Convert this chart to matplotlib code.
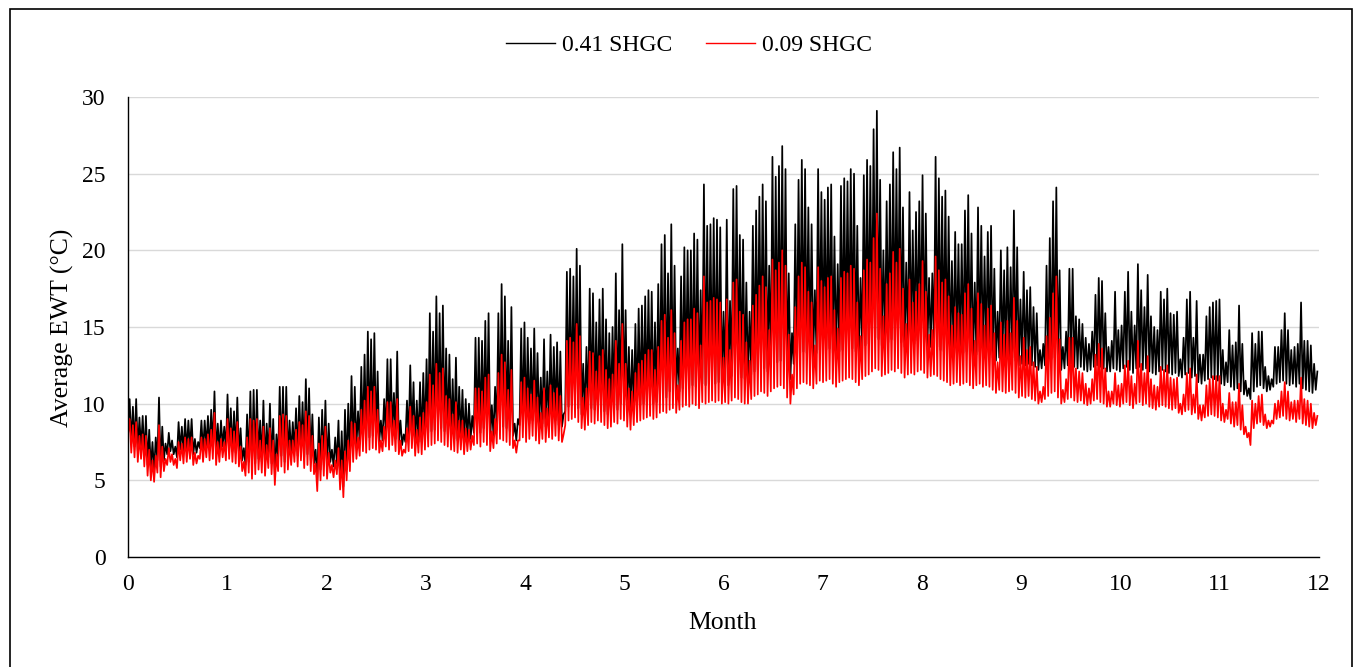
import matplotlib
matplotlib.use("Agg")
import matplotlib.pyplot as plt
import numpy as np
from matplotlib.patches import Rectangle

plt.rcParams["font.family"] = ["Liberation Serif", "DejaVu Serif"]

# Daily peak / trough EWT (°C), day 0..364
black_peak = [
    10.3, 9.8, 10.3, 9.1, 9.2, 9.2, 8.3, 7.5, 7.8, 10.4,
    8.5, 7.4, 8.1, 7.6, 7.2, 8.8, 8.5, 9.0, 8.9, 9.0,
    7.7, 7.5, 8.9, 8.9, 9.2, 9.6, 10.8, 8.7, 8.9, 8.5,
    10.6, 9.7, 9.5, 10.4, 8.4, 7.1, 9.3, 10.8, 10.9, 10.9,
    8.9, 10.2, 8.7, 10.0, 9.0, 8.0, 11.1, 11.1, 11.1, 8.9,
    8.8, 9.7, 10.5, 10.1, 11.6, 11.0, 9.3, 7.0, 9.1, 9.6,
    10.2, 8.7, 7.0, 7.8, 8.9, 8.2, 9.6, 10.0, 11.8, 11.1,
    9.5, 12.4, 13.2, 14.7, 14.2, 14.6, 12.1, 8.9, 10.3, 12.9,
    12.9, 10.7, 13.4, 8.9, 8.0, 10.2, 12.5, 11.4, 10.2, 11.4,
    12.0, 12.9, 15.9, 14.7, 17.0, 15.9, 16.4, 13.6, 13.2, 11.6,
    13.0, 11.1, 10.9, 10.3, 10.0, 9.2, 14.3, 14.3, 14.1, 15.4,
    15.9, 9.9, 11.1, 15.9, 17.8, 17.0, 14.1, 16.3, 8.7, 9.0,
    14.9, 15.3, 14.3, 13.6, 14.9, 13.3, 11.7, 14.2, 12.1, 14.5,
    13.7, 14.0, 13.4, 9.3, 18.6, 18.8, 18.3, 20.1, 19.0, 12.6,
    13.7, 17.5, 17.2, 15.3, 16.8, 17.5, 15.5, 14.6, 15.0, 18.5,
    16.1, 20.4, 16.1, 13.7, 13.5, 15.2, 16.2, 16.4, 17.0, 17.4,
    17.3, 15.3, 17.8, 20.4, 21.0, 18.5, 21.7, 19.0, 13.6, 18.3,
    20.2, 20.0, 20.0, 21.1, 20.7, 17.4, 24.3, 21.6, 21.7, 22.1,
    22.0, 21.5, 16.0, 22.0, 16.7, 24.0, 24.2, 21.0, 20.7, 17.9,
    16.0, 21.6, 22.6, 23.5, 24.3, 23.2, 19.0, 26.1, 24.8, 25.5,
    26.8, 25.3, 18.5, 14.6, 21.7, 24.6, 25.9, 25.3, 22.8, 21.7,
    17.4, 25.3, 23.8, 23.3, 24.1, 24.3, 20.9, 19.1, 24.2, 24.7,
    24.5, 25.3, 25.0, 21.6, 18.2, 24.9, 25.9, 25.5, 27.9, 29.1,
    24.6, 20.0, 23.2, 24.3, 26.4, 25.3, 26.7, 22.8, 19.2, 23.8,
    21.3, 22.5, 23.2, 24.9, 22.4, 18.2, 18.5, 26.1, 24.7, 23.5,
    23.9, 22.2, 19.3, 21.2, 20.4, 20.4, 22.6, 23.6, 21.1, 17.9,
    22.8, 21.6, 19.6, 21.2, 21.6, 18.8, 16.0, 20.0, 18.7, 20.2,
    18.9, 22.6, 20.2, 16.8, 18.6, 17.4, 17.6, 16.3, 15.9, 13.5,
    13.9, 19.0, 20.8, 23.2, 24.1, 18.7, 13.7, 14.7, 18.8, 18.8,
    15.7, 15.5, 15.2, 14.3, 13.9, 14.7, 17.1, 18.2, 18.0, 15.9,
    13.7, 14.1, 17.3, 14.8, 15.1, 17.3, 18.6, 16.0, 15.1, 19.1,
    17.4, 16.3, 18.4, 15.7, 15.0, 14.8, 17.3, 16.8, 17.5, 15.9,
    15.8, 16.0, 12.9, 14.3, 16.8, 17.3, 14.3, 16.7, 13.2, 13.2,
    15.7, 16.3, 16.6, 16.7, 16.8, 13.5, 12.7, 14.8, 13.8, 14.0,
    16.4, 13.9, 11.5, 11.0, 14.6, 13.9, 14.7, 14.7, 12.4, 11.8,
    11.6, 13.7, 13.7, 14.8, 15.9, 14.8, 13.5, 13.7, 13.9, 16.6,
    14.1, 14.1, 13.8, 12.6, 12.1,
]

black_trough = [
    8.6, 7.4, 7.2, 6.9, 7.1, 6.6, 6.0, 5.8, 5.6, 6.3,
    5.9, 6.3, 6.7, 6.9, 6.7, 6.5, 7.0, 6.8, 6.9, 7.1,
    6.7, 6.8, 7.1, 6.9, 7.2, 7.0, 7.2, 6.7, 6.9, 7.2,
    7.0, 7.1, 6.9, 6.8, 6.6, 6.3, 6.0, 6.2, 5.9, 6.1,
    6.4, 6.2, 6.0, 6.5, 6.1, 5.4, 6.3, 6.6, 6.2, 6.4,
    6.7, 6.9, 6.6, 7.0, 6.5, 6.7, 6.3, 6.1, 5.0, 5.7,
    6.0, 5.8, 6.2, 5.9, 6.1, 5.1, 4.6, 5.7, 6.4, 7.0,
    7.2, 7.4, 7.7, 7.6, 7.8, 7.9, 7.8, 7.5, 7.6, 8.0,
    7.8, 8.1, 7.7, 7.4, 7.3, 7.5, 7.7, 7.9, 7.3, 7.5,
    7.5, 7.8, 8.1, 8.2, 8.3, 8.5, 8.4, 8.2, 8.0, 7.8,
    7.7, 7.6, 7.8, 7.4, 7.6, 7.7, 8.1, 8.3, 8.1, 8.4,
    8.2, 7.7, 7.9, 8.3, 8.6, 8.5, 8.4, 8.2, 7.9, 7.6,
    8.6, 8.8, 8.5, 8.7, 8.9, 8.6, 8.4, 8.7, 8.5, 8.8,
    8.7, 8.9, 8.6, 8.5, 9.5, 9.8, 9.9, 10.0, 9.7, 9.3,
    9.2, 9.5, 9.7, 9.6, 9.8, 9.7, 9.5, 9.3, 9.4, 9.7,
    9.6, 10.0, 9.9, 9.5, 9.3, 9.6, 9.8, 9.9, 10.0, 10.1,
    10.2, 10.0, 10.1, 10.4, 10.5, 10.4, 10.8, 10.9, 10.6, 10.8,
    11.0, 11.1, 11.0, 11.2, 11.1, 10.9, 11.3, 11.2, 11.3, 11.4,
    11.3, 11.4, 11.2, 11.3, 11.2, 11.8, 12.0, 11.9, 11.7, 11.6,
    11.6, 11.9, 12.1, 12.2, 12.4, 12.3, 12.1, 12.4, 12.6, 12.7,
    12.8, 12.6, 12.0, 11.6, 12.6, 13.0, 13.3, 13.4, 13.3, 13.2,
    13.0, 13.3, 13.5, 13.4, 13.5, 13.6, 13.3, 13.1, 13.4, 13.5,
    13.6, 13.7, 13.6, 13.4, 13.2, 13.6, 13.8, 13.9, 14.1, 14.3,
    14.2, 13.8, 13.9, 14.0, 14.2, 14.1, 14.3, 14.0, 13.7, 13.9,
    14.0, 13.9, 14.1, 14.2, 14.0, 13.7, 13.7, 13.8, 13.7, 13.5,
    13.4, 13.3, 13.1, 13.2, 13.3, 13.1, 13.3, 13.4, 13.2, 13.0,
    13.2, 13.4, 13.2, 13.3, 13.2, 13.0, 12.8, 13.0, 12.9, 12.8,
    12.9, 13.0, 12.8, 12.5, 12.6, 12.5, 12.6, 12.5, 12.4, 12.2,
    12.3, 12.5, 12.7, 12.9, 13.0, 12.6, 12.2, 12.3, 12.5, 12.6,
    12.4, 12.3, 12.4, 12.2, 12.1, 12.2, 12.4, 12.5, 12.4, 12.3,
    12.1, 12.1, 12.3, 12.2, 12.1, 12.3, 12.4, 12.2, 12.0, 12.3,
    12.4, 12.2, 12.3, 12.1, 12.0, 11.9, 12.1, 12.2, 12.1, 12.0,
    11.9, 12.0, 11.8, 11.7, 11.9, 12.0, 11.7, 11.8, 11.4, 11.3,
    11.5, 11.6, 11.7, 11.6, 11.5, 11.3, 11.2, 11.4, 11.1, 10.9,
    11.0, 10.8, 10.6, 10.5, 10.3, 10.8, 11.1, 11.2, 11.0, 10.8,
    10.9, 11.1, 11.3, 11.4, 11.5, 11.3, 11.2, 11.3, 11.1, 11.3,
    11.0, 10.9, 10.8, 10.7, 10.9,
]

red_peak = [
    9.0, 8.6, 8.8, 7.9, 8.0, 7.9, 7.0, 6.3, 6.6, 8.6,
    7.2, 6.4, 7.1, 6.7, 6.4, 7.5, 7.4, 7.8, 7.7, 7.8,
    6.8, 6.6, 7.8, 7.7, 8.0, 8.3, 9.4, 7.5, 7.7, 7.5,
    9.0, 8.4, 8.2, 8.8, 7.2, 6.2, 7.8, 9.0, 8.9, 9.0,
    7.6, 8.5, 7.3, 8.4, 7.6, 6.7, 9.2, 9.3, 9.2, 7.6,
    7.6, 8.3, 8.8, 8.6, 9.5, 9.2, 7.9, 6.1, 7.4, 7.9,
    8.5, 6.8, 6.0, 6.3, 7.1, 6.3, 6.9, 7.6, 8.8, 8.7,
    7.8, 9.6, 10.2, 11.1, 10.8, 11.1, 9.6, 7.6, 8.5, 10.1,
    10.1, 8.9, 10.3, 7.6, 7.0, 8.4, 9.8, 9.2, 8.3, 9.1,
    9.4, 10.1, 11.9, 11.2, 12.6, 12.0, 12.3, 10.5, 10.3, 9.3,
    10.1, 8.9, 8.9, 8.4, 8.3, 7.9, 11.0, 11.0, 10.8, 11.7,
    11.9, 8.2, 9.0, 12.0, 13.2, 12.7, 10.9, 12.2, 7.6, 7.6,
    11.4, 11.7, 11.0, 10.6, 11.5, 10.4, 9.4, 11.0, 9.7, 11.2,
    10.7, 11.0, 10.5, 8.0, 14.1, 14.3, 14.0, 15.2, 14.4, 10.4,
    11.0, 13.4, 13.3, 12.1, 13.1, 13.5, 12.2, 11.6, 11.9, 14.1,
    12.6, 15.2, 12.6, 11.0, 10.8, 12.0, 12.6, 12.8, 13.2, 13.5,
    13.5, 12.2, 13.7, 15.4, 15.8, 14.3, 16.1, 14.6, 11.2, 14.1,
    15.3, 15.5, 15.5, 16.2, 15.9, 13.8, 18.3, 16.6, 16.7, 16.9,
    16.8, 16.6, 13.0, 16.8, 13.5, 17.9, 18.1, 16.0, 15.8, 14.0,
    12.8, 16.4, 17.1, 17.7, 18.3, 17.6, 14.8, 19.4, 18.7, 19.2,
    20.0, 19.0, 14.5, 11.9, 16.3, 18.3, 19.2, 18.9, 17.3, 16.6,
    13.8, 18.9, 18.0, 17.6, 18.2, 18.3, 16.1, 14.9, 18.2, 18.6,
    18.5, 19.0, 18.8, 16.6, 14.4, 18.7, 19.4, 19.2, 20.8, 22.4,
    18.8, 15.7, 17.8, 18.5, 19.9, 19.2, 20.1, 17.5, 15.2, 18.1,
    16.6, 17.3, 17.8, 19.3, 17.3, 14.5, 14.8, 19.6, 18.7, 17.9,
    18.1, 17.0, 15.1, 16.3, 15.9, 15.8, 17.2, 17.8, 16.2, 14.1,
    17.2, 16.5, 15.1, 16.2, 16.4, 14.6, 12.7, 15.3, 14.5, 15.4,
    14.6, 16.9, 15.4, 13.1, 14.3, 13.5, 13.7, 12.7, 12.4, 10.8,
    11.1, 14.4, 15.6, 17.2, 18.3, 14.2, 10.9, 11.6, 14.3, 14.3,
    12.3, 12.1, 12.0, 11.3, 11.0, 11.6, 13.2, 13.9, 13.6, 12.3,
    10.8, 10.8, 12.0, 11.2, 11.3, 12.5, 12.8, 11.8, 11.3, 14.1,
    12.6, 12.0, 13.1, 11.6, 11.2, 11.1, 12.4, 12.2, 12.5, 11.7,
    11.6, 11.7, 10.0, 10.6, 12.0, 12.3, 10.6, 11.9, 9.9, 9.9,
    11.2, 11.6, 11.8, 11.8, 11.8, 10.0, 9.6, 10.7, 10.1, 10.1,
    11.3, 9.9, 8.5, 8.1, 10.2, 10.0, 10.5, 10.6, 9.3, 8.9,
    8.9, 10.0, 10.2, 10.8, 11.4, 10.8, 10.1, 10.2, 10.2, 11.7,
    10.3, 10.2, 10.0, 9.4, 9.2,
]

red_trough = [
    8.0, 6.8, 6.5, 6.2, 6.4, 5.9, 5.3, 5.0, 4.9, 5.5,
    5.2, 5.6, 6.0, 6.2, 6.0, 5.8, 6.3, 6.1, 6.2, 6.4,
    6.0, 6.1, 6.4, 6.2, 6.5, 6.3, 6.4, 6.0, 6.2, 6.5,
    6.3, 6.4, 6.2, 6.1, 5.9, 5.6, 5.3, 5.5, 5.1, 5.4,
    5.7, 5.5, 5.3, 5.8, 5.4, 4.7, 5.6, 5.9, 5.5, 5.7,
    6.0, 6.2, 5.9, 6.3, 5.8, 6.0, 5.6, 5.4, 4.3, 5.0,
    5.3, 5.1, 5.5, 5.2, 5.4, 4.4, 3.9, 5.0, 5.6, 6.2,
    6.4, 6.6, 6.9, 6.8, 7.0, 7.1, 7.0, 6.8, 6.9, 7.2,
    7.0, 7.3, 6.9, 6.7, 6.6, 6.8, 6.9, 7.1, 6.6, 6.8,
    6.7, 7.0, 7.2, 7.3, 7.4, 7.6, 7.5, 7.3, 7.2, 7.0,
    6.9, 6.8, 7.0, 6.7, 6.9, 7.0, 7.3, 7.4, 7.2, 7.5,
    7.3, 6.9, 7.1, 7.4, 7.7, 7.6, 7.5, 7.3, 7.1, 6.8,
    7.6, 7.8, 7.5, 7.7, 7.9, 7.6, 7.4, 7.7, 7.5, 7.8,
    7.7, 7.9, 7.6, 7.5, 8.6, 8.9, 9.0, 9.1, 8.8, 8.4,
    8.3, 8.6, 8.8, 8.7, 8.9, 8.8, 8.6, 8.4, 8.5, 8.8,
    8.7, 9.0, 8.9, 8.5, 8.3, 8.6, 8.8, 8.9, 9.0, 9.1,
    9.2, 9.0, 9.1, 9.4, 9.5, 9.4, 9.6, 9.7, 9.4, 9.6,
    9.8, 9.9, 9.8, 10.0, 9.9, 9.7, 10.1, 10.0, 10.1, 10.2,
    10.1, 10.2, 10.0, 10.1, 10.0, 10.2, 10.4, 10.3, 10.1, 10.0,
    10.0, 10.3, 10.5, 10.6, 10.8, 10.7, 10.5, 10.8, 11.0, 11.1,
    11.2, 11.0, 10.4, 10.0, 10.6, 11.0, 11.3, 11.4, 11.3, 11.2,
    11.0, 11.3, 11.5, 11.4, 11.5, 11.6, 11.3, 11.1, 11.4, 11.5,
    11.6, 11.7, 11.6, 11.4, 11.2, 11.6, 11.8, 11.9, 12.1, 12.3,
    12.2, 11.8, 11.9, 12.0, 12.2, 12.1, 12.3, 12.0, 11.7, 11.9,
    12.0, 11.9, 12.1, 12.2, 12.0, 11.7, 11.8, 11.9, 11.8, 11.6,
    11.5, 11.4, 11.2, 11.3, 11.4, 11.2, 11.3, 11.4, 11.2, 11.0,
    11.2, 11.3, 11.1, 11.2, 11.1, 10.9, 10.7, 10.9, 10.8, 10.7,
    10.8, 10.9, 10.7, 10.4, 10.5, 10.4, 10.5, 10.3, 10.2, 10.0,
    10.1, 10.3, 10.5, 10.7, 10.8, 10.4, 10.0, 10.1, 10.3, 10.4,
    10.2, 10.1, 10.2, 10.0, 9.9, 10.0, 10.2, 10.3, 10.1, 10.0,
    9.8, 9.8, 10.0, 9.9, 9.8, 10.0, 10.1, 9.9, 9.7, 10.0,
    10.1, 9.9, 10.0, 9.8, 9.7, 9.6, 9.8, 9.9, 9.8, 9.7,
    9.6, 9.7, 9.4, 9.3, 9.5, 9.6, 9.3, 9.4, 9.0, 8.9,
    9.1, 9.2, 9.3, 9.2, 9.1, 8.9, 8.8, 9.0, 8.7, 8.5,
    8.6, 8.3, 8.0, 7.8, 7.3, 8.4, 8.7, 8.8, 8.6, 8.4,
    8.5, 8.7, 9.0, 9.1, 9.2, 9.0, 8.9, 9.0, 8.8, 9.0,
    8.7, 8.6, 8.5, 8.4, 8.6,
]

series_labels = ["0.41 SHGC", "0.09 SHGC"]
month_ticks = list(range(0, 13))
ewt_ticks = list(range(0, 31, 5))

DAYS_PER_MONTH = 365 / 12
W, H = 1361, 667


def daily_trace(trough, peak):
    day = np.arange(len(peak))
    x = np.column_stack([day, day + 0.5]).ravel() / DAYS_PER_MONTH
    y = np.column_stack([trough, peak]).ravel()
    return x, y


fig = plt.figure(figsize=(W / 100, H / 100), dpi=100)
ax = fig.add_axes([128 / W, 110 / H, 1191 / W, 460 / H])

xb, yb = daily_trace(black_trough, black_peak)
xr, yr = daily_trace(red_trough, red_peak)
ax.plot(xb, yb, color="black", lw=1.25, label=series_labels[0])
ax.plot(xr, yr, color="#FF0000", lw=1.25, label=series_labels[1])

ax.set_xlim(0, 12)
ax.set_ylim(0, 30)
ax.set_xticks(month_ticks)
ax.set_yticks(ewt_ticks)
ax.yaxis.grid(True, color="#D9D9D9", lw=1.0)
ax.set_axisbelow(True)
for side in ("top", "right"):
    ax.spines[side].set_visible(False)
for side in ("left", "bottom"):
    ax.spines[side].set_linewidth(1.0)
ax.tick_params(axis="both", length=0, labelsize=17)
ax.tick_params(axis="y", pad=16)
ax.tick_params(axis="x", pad=12)

fig.text(62 / W, 1 - 328 / H, "Average EWT (°C)", rotation=90,
         ha="center", va="center", fontsize=18.5)
fig.text(723 / W, 1 - 623 / H, "Month", ha="center", va="center", fontsize=18.5)

leg = fig.legend(loc="center", bbox_to_anchor=(689 / W, 1 - 45 / H), ncol=2,
                 frameon=False, fontsize=17, handlelength=2.1, handletextpad=0.3,
                 columnspacing=1.4)
for line in leg.get_lines():
    line.set_linewidth(1.0)

fig.add_artist(Rectangle((10 / W, -0.01), 1342 / W, 1 - 9 / H + 0.01,
                         transform=fig.transFigure, fill=False,
                         edgecolor="black", lw=1.2))

fig.savefig("out.png", dpi=100)
